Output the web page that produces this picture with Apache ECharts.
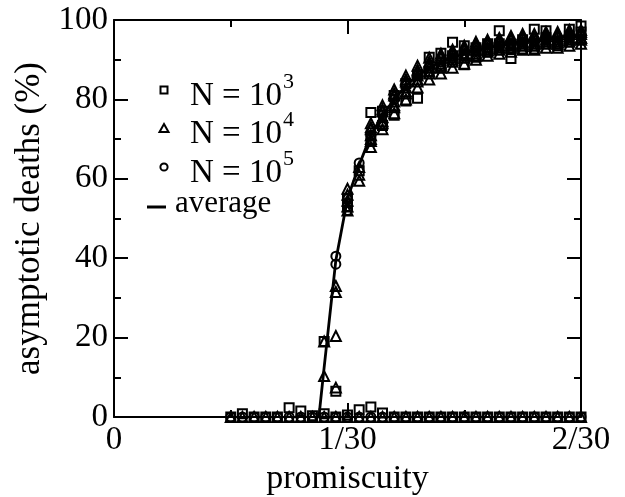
<!DOCTYPE html>
<html>
<head>
<meta charset="utf-8">
<script src="https://cdn.jsdelivr.net/npm/echarts/dist/echarts.min.js"></script>
<style>
html,body{margin:0;padding:0;background:#fff;}
#chart{width:625px;height:497px;}
</style>
</head>
<body>
<div id="chart"></div>
<script>
// x values of all runs (promiscuity), lower (extinct) branch
const promiscuity = [0.01667,0.01833,0.02,0.02167,0.02333,0.025,0.02667,0.02833,0.03,0.03167,0.03333,0.035,0.03667,0.03833,0.04,0.04167,0.04333,0.045,0.04667,0.04833,0.05,0.05167,0.05333,0.055,0.05667,0.05833,0.06,0.06167,0.06333,0.065,0.06667];
const lowN1e3 = [0,0.8,0,0,0,2.3,1.5,0.3,0.8,0,0.5,1.8,2.5,1.0,0,0,0,0,0,0,0,0,0,0,0,0,0,0,0,0,0];
const lowN1e4 = [0,0,0,0,0,0,0,0,0,0,0,0,0,0,0,0,0,0,0,0,0,0,0,0,0,0,0,0,0,0,0];
const lowN1e5 = [0,0,0,0,0,0,0,0,0,0,0,0,0,0,0,0,0,0,0,0,0,0,0,0,0,0,0,0,0,0,0];

// upper (epidemic) branch
const pUpper = [0.03,0.03167,0.03333,0.035,0.03667,0.03833,0.04,0.04167,0.04333,0.045,0.04667,0.04833,0.05,0.05167,0.05333,0.055,0.05667,0.05833,0.06,0.06167,0.06333,0.065,0.06667];
const sqA = [19,6.5,55,62,76.7,73.4,76,79.6,80.3,90.6,91.6,94.4,93.5,90.6,92,97.3,90.3,92.7,97.7,97.3,94,97.7,98.5];
const sqB = [null,null,53,null,70,77,81,84,86,87,88,91,88.7,93,94,94,93.5,95,92.7,95.5,93.5,96,97];
const triA = [19,33,57.5,61,74,78.5,82.5,86,88.5,90.5,91.5,92.5,93.5,94.5,95,95.5,96,96.5,96.5,97,97,97.5,97.5];
const triB = [10.3,31.5,56,59.5,72.5,77,81,84.5,87,89,90.5,91.5,92.5,93.5,94,94.5,95,95.5,95.5,96,96,96.5,96.5];
const triC = [null,20.4,54.5,63,71,75.5,79.5,83,86,88,89,90.5,91.5,92.5,93,93.5,94,94.5,94.5,95,95,95.5,95.5];
const triD = [null,7.4,53,null,69.5,74,78,81.5,84.5,86.5,88,89.5,90.5,91,92,92.5,93,93.5,93.5,94,94,94.5,95];
const triE = [null,null,52,null,68,72.5,76.5,80,83,85,86.5,88,89,90,91,91.5,92,92.5,92.5,93,93,93.5,94];
const triF = [null,null,null,null,73,77.5,81.5,85,87.5,89.5,91,92,93,94,94.5,95,95.5,96,96,96.5,96.5,97,97];
const triG = [null,null,null,null,70,74.5,78.5,82,85,87,88.5,90,91,91.5,92.5,93,93.5,94,94,94.5,94.5,95,95.5];
const cirA = [null,40.5,54,64,71,76,80,83.5,86,88,89.5,90.5,91.5,92.3,93,93.5,94,94.4,94.8,95.2,95.5,95.8,96.1];
const cirB = [null,38.5,52,null,null,null,null,null,null,null,null,null,null,null,null,null,null,null,null,null,null,null,null];

// average curve
const avgP = [0.02925,0.03,0.03167,0.03333,0.035,0.03667,0.03833,0.04,0.04167,0.04333,0.045,0.04667,0.04833,0.05,0.05167,0.05333,0.055,0.05667,0.05833,0.06,0.06167,0.06333,0.065,0.06667];
const avgDeaths = [0,12.5,39.5,55,63.5,71,76,80,83.5,86,88,89.5,90.5,91.5,92.3,93,93.5,94,94.4,94.8,95.2,95.5,95.8,96.1];

const xTickLabels = ['0','1/30','2/30'];
const legendLabels = ['3','4','5'];

function pairs(xs, ys){ const out=[]; for(let i=0;i<xs.length;i++){ if(ys[i]!==null) out.push([xs[i], ys[i]]); } return out; }

const FONT = 'Liberation Serif';
const hollow = {color:'rgba(0,0,0,0)', borderColor:'#000', borderWidth:2, opacity:1};

function scatter(name, symbol, size, data){
  return {name, type:'scatter', symbol, symbolSize:size, data, itemStyle:hollow, clip:false, silent:true, animation:false, xAxisIndex:0, yAxisIndex:0};
}

const axisCommon = {
  axisLine:{show:true, onZero:false, lineStyle:{color:'#000', width:2}},
  axisTick:{show:true, inside:true, length:14, lineStyle:{color:'#000', width:2}},
  minorTick:{show:true, splitNumber:2, length:7, lineStyle:{color:'#000', width:2}},
  splitLine:{show:false}, minorSplitLine:{show:false}
};

const chart = echarts.init(document.getElementById('chart'), null, {renderer:'canvas'});
chart.setOption({
  animation:false,
  backgroundColor:'#fff',
  textStyle:{fontFamily:FONT},
  grid:{left:114, right:44, top:20, bottom:80, containLabel:false, outerBoundsMode:'none'},
  xAxis:[
    Object.assign({type:'value', min:0, max:2/30, interval:1/30, position:'bottom',
      axisLabel:{fontFamily:FONT, fontSize:33, color:'#000', margin:7,
        formatter:v=>xTickLabels[Math.round(v*30)]},
      name:'promiscuity', nameLocation:'middle', nameGap:35,
      nameTextStyle:{fontFamily:FONT, fontSize:34, color:'#000'}}, axisCommon),
    Object.assign({type:'value', min:0, max:2/30, interval:1/30, position:'top',
      axisLabel:{show:false}}, axisCommon)
  ],
  yAxis:[
    Object.assign({type:'value', min:0, max:100, interval:20, position:'left',
      axisLabel:{fontFamily:FONT, fontSize:33, color:'#000', margin:6},
      name:'asymptotic deaths (%)', nameLocation:'middle', nameGap:67, nameRotate:90,
      nameTextStyle:{fontFamily:FONT, fontSize:35, color:'#000'}}, axisCommon),
    Object.assign({type:'value', min:0, max:100, interval:20, position:'right',
      axisLabel:{show:false}}, axisCommon)
  ],
  series:[
    scatter('N=1e3 low','rect',9,pairs(promiscuity,lowN1e3)),
    scatter('N=1e4 low','triangle',10,pairs(promiscuity,lowN1e4)),
    scatter('N=1e5 low','circle',9,pairs(promiscuity,lowN1e5)),
    scatter('N=1e3 a','rect',9,pairs(pUpper,sqA)),
    scatter('N=1e3 b','rect',9,pairs(pUpper,sqB)),
    scatter('N=1e4 a','triangle',10,pairs(pUpper,triA)),
    scatter('N=1e4 b','triangle',10,pairs(pUpper,triB)),
    scatter('N=1e4 c','triangle',10,pairs(pUpper,triC)),
    scatter('N=1e4 d','triangle',10,pairs(pUpper,triD)),
    scatter('N=1e4 e','triangle',10,pairs(pUpper,triE)),
    scatter('N=1e4 f','triangle',10,pairs(pUpper,triF)),
    scatter('N=1e4 g','triangle',10,pairs(pUpper,triG)),
    scatter('N=1e5 a','circle',9,pairs(pUpper,cirA)),
    scatter('N=1e5 b','circle',9,pairs(pUpper,cirB)),
    {name:'average', type:'line', data:pairs(avgP,avgDeaths), showSymbol:false, symbol:'none',
     lineStyle:{color:'#000', width:2.8, opacity:1}, clip:false, silent:true, z:5}
  ],
  graphic:[
    {type:'rect', shape:{x:160.5,y:86.5,width:7,height:7}, style:{fill:'none', stroke:'#000', lineWidth:2}},
    {type:'polygon', shape:{points:[[164,124],[168.5,132],[159.5,132]]}, style:{fill:'none', stroke:'#000', lineWidth:2}},
    {type:'circle', shape:{cx:164, cy:167, r:3.6}, style:{fill:'none', stroke:'#000', lineWidth:2}},
    {type:'line', shape:{x1:147,y1:207,x2:166,y2:207}, style:{stroke:'#000', lineWidth:3}},
    {type:'text', x:190, y:96, style:{text:'N = 10', fontFamily:FONT, fontSize:33, fill:'#000', verticalAlign:'middle', align:'left'}},
    {type:'text', x:283, y:82, style:{text:legendLabels[0], fontFamily:FONT, fontSize:22, fill:'#000', verticalAlign:'middle', align:'left'}},
    {type:'text', x:190, y:134.5, style:{text:'N = 10', fontFamily:FONT, fontSize:33, fill:'#000', verticalAlign:'middle', align:'left'}},
    {type:'text', x:283, y:120.5, style:{text:legendLabels[1], fontFamily:FONT, fontSize:22, fill:'#000', verticalAlign:'middle', align:'left'}},
    {type:'text', x:190, y:173, style:{text:'N = 10', fontFamily:FONT, fontSize:33, fill:'#000', verticalAlign:'middle', align:'left'}},
    {type:'text', x:283, y:159, style:{text:legendLabels[2], fontFamily:FONT, fontSize:22, fill:'#000', verticalAlign:'middle', align:'left'}},
    {type:'text', x:175, y:204, style:{text:'average', fontFamily:FONT, fontSize:31, fill:'#000', verticalAlign:'middle', align:'left'}}
  ]
});
</script>
</body>
</html>
